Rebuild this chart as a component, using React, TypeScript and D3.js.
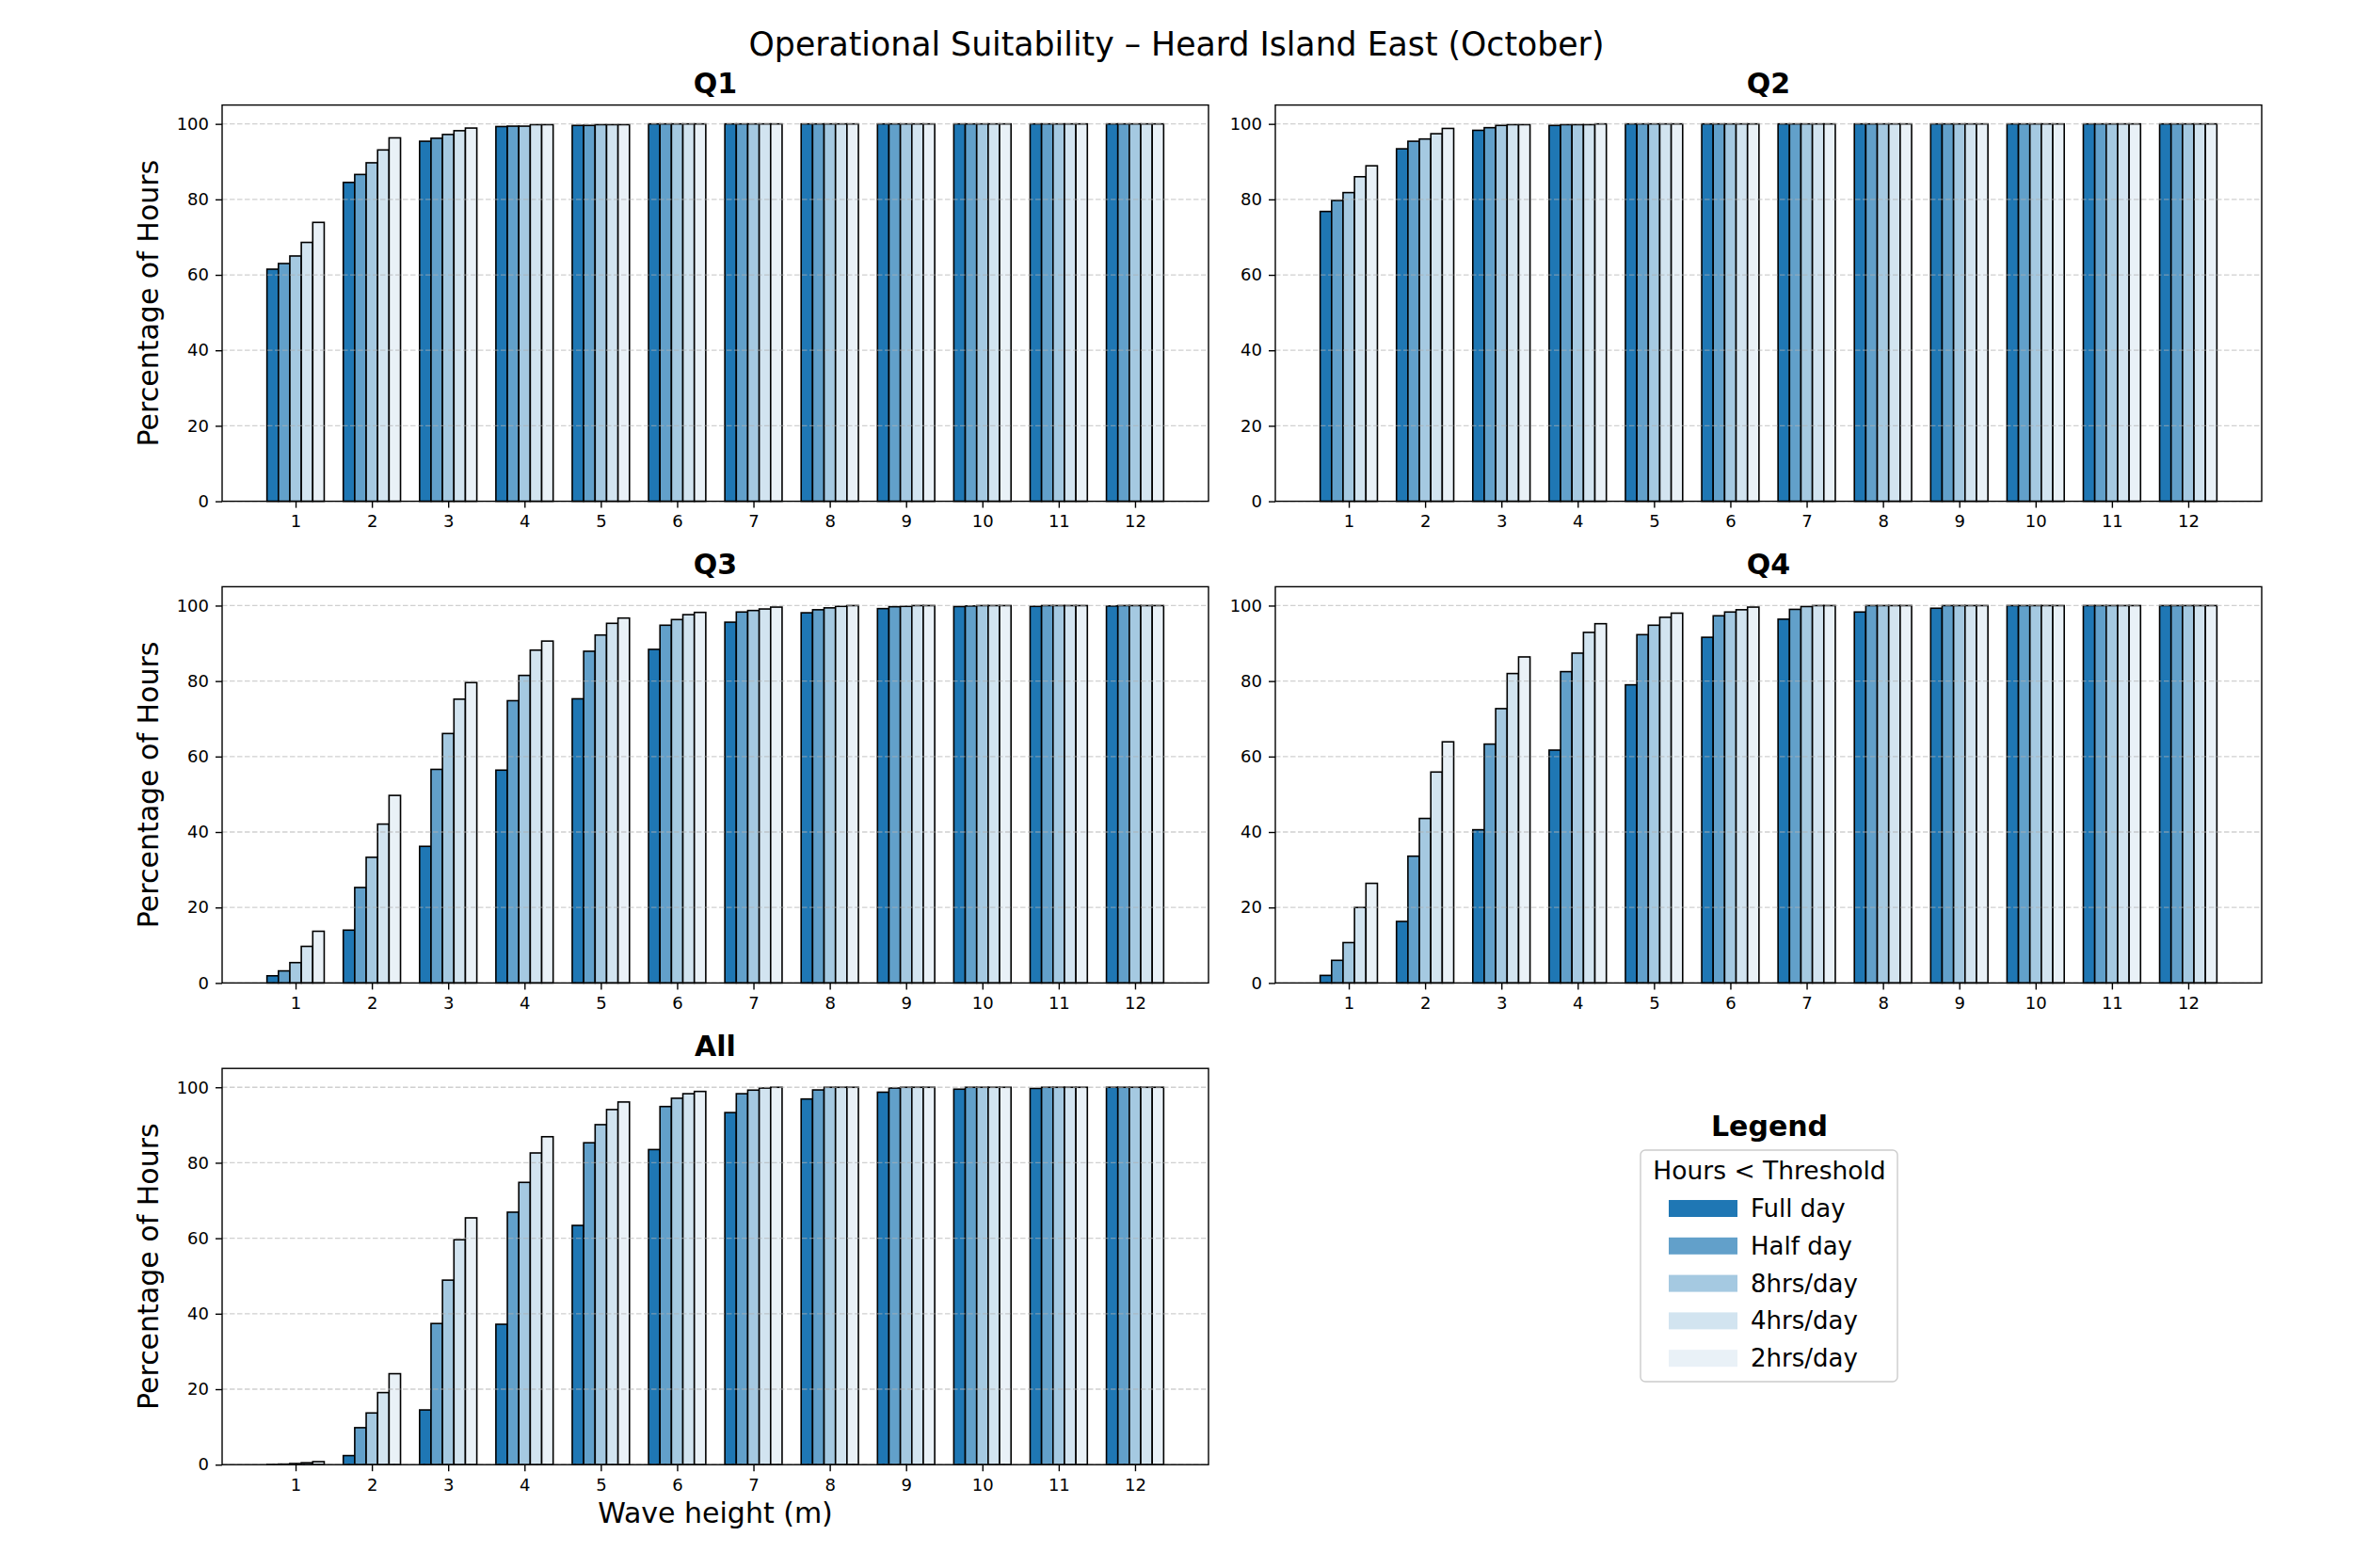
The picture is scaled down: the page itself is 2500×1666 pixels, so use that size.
import React, { useEffect, useRef } from "react";
import * as d3 from "d3";

const waveHeights = [1, 2, 3, 4, 5, 6, 7, 8, 9, 10, 11, 12];
const thresholdLabels = ["Full day", "Half day", "8hrs/day", "4hrs/day", "2hrs/day"];
const thresholdColors = ["#1f77b4", "#62a0ca", "#a5c9e1", "#d2e4f0", "#e9f1f7"];
const yTicks = [0, 20, 40, 60, 80, 100];
const panelTitles = ["Q1", "Q2", "Q3", "Q4", "All"];

// one row per threshold (Full day .. 2hrs/day), one value per wave height
const q1 = [
  [61.5, 84.5, 95.4, 99.3, 99.6, 100, 100, 100, 100, 100, 100, 100],
  [63.0, 86.6, 96.2, 99.4, 99.6, 100, 100, 100, 100, 100, 100, 100],
  [65.0, 89.7, 97.2, 99.4, 99.8, 100, 100, 100, 100, 100, 100, 100],
  [68.6, 93.1, 98.2, 99.8, 99.8, 100, 100, 100, 100, 100, 100, 100],
  [73.9, 96.3, 98.9, 99.8, 99.8, 100, 100, 100, 100, 100, 100, 100],
];
const q2 = [
  [76.8, 93.4, 98.3, 99.6, 100, 100, 100, 100, 100, 100, 100, 100],
  [79.7, 95.4, 99.0, 99.8, 100, 100, 100, 100, 100, 100, 100, 100],
  [81.8, 96.0, 99.6, 99.8, 100, 100, 100, 100, 100, 100, 100, 100],
  [86.0, 97.4, 99.8, 99.8, 100, 100, 100, 100, 100, 100, 100, 100],
  [88.9, 98.8, 99.8, 100, 100, 100, 100, 100, 100, 100, 100, 100],
];
const q3 = [
  [1.9, 14.0, 36.2, 56.4, 75.3, 88.4, 95.6, 98.1, 99.2, 99.75, 99.8, 99.9],
  [3.2, 25.3, 56.6, 74.8, 87.9, 94.8, 98.3, 98.9, 99.7, 99.9, 100, 100],
  [5.4, 33.3, 66.1, 81.5, 92.2, 96.3, 98.7, 99.4, 99.8, 100, 100, 100],
  [9.7, 42.1, 75.2, 88.2, 95.3, 97.6, 99.1, 99.8, 100, 100, 100, 100],
  [13.7, 49.7, 79.6, 90.6, 96.7, 98.2, 99.6, 100, 100, 100, 100, 100],
];
const q4 = [
  [2.0, 16.3, 40.6, 61.7, 79.0, 91.6, 96.4, 98.3, 99.3, 100, 100, 100],
  [6.0, 33.6, 63.3, 82.5, 92.3, 97.3, 99.0, 100, 100, 100, 100, 100],
  [10.7, 43.6, 72.7, 87.4, 94.8, 98.3, 99.75, 100, 100, 100, 100, 100],
  [20.0, 55.9, 82.0, 92.9, 96.9, 98.9, 100, 100, 100, 100, 100, 100],
  [26.4, 63.9, 86.4, 95.2, 98.0, 99.6, 100, 100, 100, 100, 100, 100],
];
const allQ = [
  [0.05, 2.4, 14.5, 37.2, 63.4, 83.5, 93.3, 96.9, 98.7, 99.5, 99.7, 100],
  [0.15, 9.8, 37.4, 66.9, 85.3, 94.9, 98.3, 99.3, 99.8, 100, 100, 100],
  [0.3, 13.7, 48.9, 74.8, 90.1, 97.1, 99.25, 100, 100, 100, 100, 100],
  [0.5, 19.1, 59.6, 82.6, 94.1, 98.3, 99.8, 100, 100, 100, 100, 100],
  [0.8, 24.1, 65.4, 86.9, 96.1, 98.9, 100, 100, 100, 100, 100, 100],
];
const panelValues = [q1, q2, q3, q4, allQ];

const FONT = "DejaVu Sans, Liberation Sans, sans-serif";
const barW = 0.15;

const App = () => {
  const ref = useRef<SVGSVGElement>(null);

  useEffect(() => {
    document.body.style.margin = "0";
    drawChart();
  }, []);

  const drawChart = () => {
    const svg = d3.select(ref.current);
    svg.selectAll("*").remove();

    const colLeft = [236, 1355];
    const rowTop = [111.6, 623.4, 1135.2];
    const axW = 1048;
    const axH = 421;

    svg
      .append("text")
      .attr("x", 1250)
      .attr("y", 59)
      .attr("text-anchor", "middle")
      .style("font-family", FONT)
      .style("font-size", "34.7px")
      .text("Operational Suitability \u2013 Heard Island East (October)");

    panelValues.forEach((values, i) => {
      const col = i % 2;
      const row = Math.floor(i / 2);
      const left = colLeft[col];
      const top = rowTop[row];

      const x = d3
        .scaleLinear()
        .domain([1 - 2.5 * barW - 0.5875, 12 + 2.5 * barW + 0.5875])
        .range([0, axW]);
      const y = d3.scaleLinear().domain([0, 105]).range([axH, 0]);

      const g = svg.append("g").attr("transform", `translate(${left},${top})`);

      // Bars
      values.forEach((series, k) => {
        g.selectAll(null)
          .data(series)
          .enter()
          .append("rect")
          .attr("x", (d, j) => x(waveHeights[j] + (k - 2) * barW - barW / 2))
          .attr("y", (d) => y(d))
          .attr("width", x(barW) - x(0))
          .attr("height", (d) => y(0) - y(d))
          .attr("fill", thresholdColors[k])
          .attr("stroke", "black")
          .attr("stroke-width", 1.6);
      });

      // Y grid lines (over the bars, as in the original)
      g.append("g")
        .selectAll("line")
        .data(yTicks)
        .enter()
        .append("line")
        .attr("x1", 0)
        .attr("x2", axW)
        .attr("y1", (d) => y(d))
        .attr("y2", (d) => y(d))
        .attr("stroke", "#b0b0b0")
        .attr("stroke-opacity", 0.6)
        .attr("stroke-width", 1.3)
        .attr("stroke-dasharray", "5.5,2.5");

      // Axes
      const yAxis = g
        .append("g")
        .call(d3.axisLeft(y).tickValues(yTicks).tickSize(7).tickPadding(7));
      const xAxis = g
        .append("g")
        .attr("transform", `translate(0,${axH})`)
        .call(
          d3
            .axisBottom(x)
            .tickValues(waveHeights)
            .tickFormat(d3.format("d"))
            .tickSize(7)
            .tickPadding(8)
        );
      [yAxis, xAxis].forEach((a) => {
        a.select(".domain").remove();
        a.selectAll("line").attr("stroke", "black").attr("stroke-width", 1.4);
        a.selectAll("text")
          .attr("fill", "black")
          .style("font-family", FONT)
          .style("font-size", "18px");
      });

      // Spines
      g.append("rect")
        .attr("width", axW)
        .attr("height", axH)
        .attr("fill", "none")
        .attr("stroke", "black")
        .attr("stroke-width", 1.4);

      g.append("text")
        .attr("x", axW / 2)
        .attr("y", -13)
        .attr("text-anchor", "middle")
        .style("font-family", FONT)
        .style("font-size", "30px")
        .style("font-weight", "bold")
        .text(panelTitles[i]);

      if (col === 0) {
        g.append("text")
          .attr("transform", `translate(${168 - left},${axH / 2}) rotate(-90)`)
          .attr("text-anchor", "middle")
          .style("font-family", FONT)
          .style("font-size", "30px")
          .text("Percentage of Hours");
      }
      if (i === panelValues.length - 1) {
        g.append("text")
          .attr("x", axW / 2)
          .attr("y", axH + 62)
          .attr("text-anchor", "middle")
          .style("font-family", FONT)
          .style("font-size", "30px")
          .text("Wave height (m)");
      }
    });

    // Legend
    const lg = svg.append("g");
    lg.append("text")
      .attr("x", 1880)
      .attr("y", 1207)
      .attr("text-anchor", "middle")
      .style("font-family", FONT)
      .style("font-size", "30px")
      .style("font-weight", "bold")
      .text("Legend");
    lg.append("rect")
      .attr("x", 1743)
      .attr("y", 1222)
      .attr("width", 273)
      .attr("height", 246)
      .attr("rx", 5)
      .attr("fill", "white")
      .attr("stroke", "#cccccc")
      .attr("stroke-width", 1.4);
    lg.append("text")
      .attr("x", 1880)
      .attr("y", 1253)
      .attr("text-anchor", "middle")
      .style("font-family", FONT)
      .style("font-size", "26.5px")
      .text("Hours < Threshold");

    const entries = lg
      .selectAll("g.entry")
      .data(thresholdLabels)
      .enter()
      .append("g")
      .attr("class", "entry")
      .attr("transform", (d, k) => `translate(0,${1284 + k * 39.8})`);
    entries
      .append("rect")
      .attr("x", 1773)
      .attr("y", -9)
      .attr("width", 73)
      .attr("height", 18)
      .attr("fill", (d, k) => thresholdColors[k]);
    entries
      .append("text")
      .attr("x", 1860)
      .attr("y", 9)
      .style("font-family", FONT)
      .style("font-size", "26px")
      .text((d) => d);
  };

  return <svg ref={ref} width={2500} height={1666} style={{ display: "block", background: "white" }}></svg>;
};

export default App;
